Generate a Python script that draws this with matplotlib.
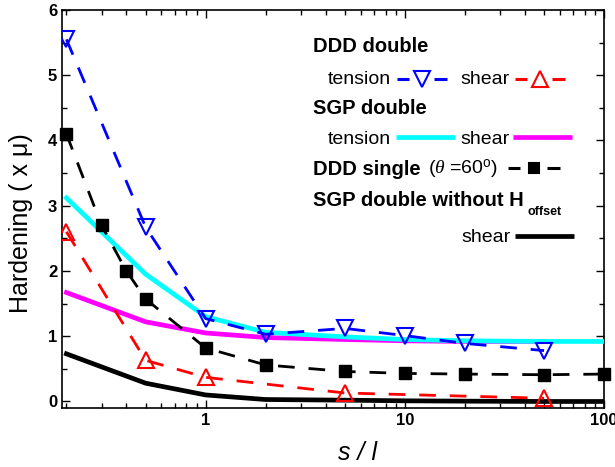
import matplotlib
matplotlib.use("Agg")
import matplotlib.pyplot as plt
from matplotlib.lines import Line2D
from matplotlib.ticker import LogLocator, NullFormatter, MultipleLocator, FixedLocator, FixedFormatter

plt.rcParams['font.family'] = ['Liberation Sans', 'DejaVu Sans']
plt.rcParams['mathtext.fontset'] = 'custom'
plt.rcParams['mathtext.rm'] = 'Liberation Sans'
plt.rcParams['mathtext.it'] = 'Liberation Serif:italic'

# Data
ddd_x_tension = [0.2, 0.5, 1, 2, 5, 10, 20, 50]
ddd_tension = [5.55, 2.67, 1.27, 1.03, 1.12, 1.01, 0.89, 0.78]
ddd_x_shear = [0.2, 0.5, 1, 5, 50]
ddd_shear = [2.6, 0.63, 0.37, 0.13, 0.05]
single_x = [0.2, 0.3, 0.4, 0.5, 1, 2, 5, 10, 20, 50, 100]
single_y = [4.1, 2.7, 2.0, 1.57, 0.82, 0.56, 0.46, 0.43, 0.42, 0.41, 0.42]
sgp_x = [0.2, 0.5, 1, 2, 5, 10, 20, 50, 100]
sgp_tension = [3.12, 1.95, 1.3, 1.06, 0.99, 0.95, 0.93, 0.92, 0.92]
sgp_shear_x = [0.2, 0.5, 1, 2, 5, 10, 20, 50]
sgp_shear = [1.67, 1.22, 1.05, 0.98, 0.95, 0.93, 0.92, 0.92]
noff_x = [0.2, 0.5, 1, 2, 5, 10, 20, 50, 100]
noff_shear = [0.73, 0.28, 0.1, 0.03, 0.02, 0.01, 0.005, 0.0, 0.0]

W, H = 615, 467
fig = plt.figure(figsize=(W/100, H/100), dpi=100)
ax = fig.add_axes([62/W, 1-408/H, (604-62)/W, (408-10)/H])

DASH = (0, (6, 5))
ax.plot(sgp_shear_x, sgp_shear, color='#ff00ff', lw=3.4, zorder=2)
ax.plot(sgp_x, sgp_tension, color='#00ffff', lw=3.4, zorder=3)
ax.plot(noff_x, noff_shear, color='black', lw=3.4, zorder=2)
ax.plot(ddd_x_tension, ddd_tension, color='blue', lw=2, ls=DASH,
        marker='v', ms=12, mfc='none', mew=1.5, zorder=4)
ax.plot(ddd_x_shear, ddd_shear, color='red', lw=2, ls=DASH,
        marker='^', ms=12, mfc='none', mew=1.5, zorder=4)
ax.plot(single_x, single_y, color='black', lw=2, ls=DASH,
        marker='s', ms=8, zorder=4, clip_on=False)

ax.set_xscale('log')
ax.set_xlim(0.19, 100)
ax.set_ylim(-0.1, 6)
ax.xaxis.set_major_locator(FixedLocator([1, 10, 100]))
ax.xaxis.set_major_formatter(FixedFormatter(['1', '10', '100']))
ax.xaxis.set_minor_locator(LogLocator(base=10, subs=range(2, 10)))
ax.xaxis.set_minor_formatter(NullFormatter())
ax.yaxis.set_major_locator(MultipleLocator(1))
ax.yaxis.set_minor_locator(MultipleLocator(0.5))
ax.tick_params(which='both', direction='in', top=True, right=True, width=1)
ax.tick_params(which='major', length=6, labelsize=12)
ax.tick_params(which='minor', length=3.5)
for lab in ax.get_xticklabels() + ax.get_yticklabels():
    lab.set_fontweight('bold')
for s in ax.spines.values():
    s.set_linewidth(1.2)

ax.set_ylabel('Hardening ( x μ)', fontsize=18)
ax.yaxis.set_label_coords(-0.054, 0.465)
ax.set_xlabel('s / l', fontsize=18, style='italic')
ax.xaxis.set_label_coords(0.546, -0.083)

def fx(x):
    return x / W
def fy(y):
    return 1 - y / H

def txt(x, y, s, bold=False, size=14):
    fig.text(fx(x), fy(y), s, fontsize=size, fontweight='bold' if bold else 'normal',
             va='center', ha='left')

def seg(x0, x1, y, color, lw):
    fig.add_artist(Line2D([fx(x0), fx(x1)], [fy(y), fy(y)], color=color, lw=lw,
                          solid_capstyle='butt'))

def dashed_sample(x0, x1, y, color, marker, ms, mfc):
    seg(x0, x0 + 12, y, color, 2.2)
    seg(x1 - 13, x1, y, color, 2.2)
    fig.add_artist(Line2D([fx((x0 + x1) / 2)], [fy(y)], color=color, marker=marker,
                          ms=ms, mfc=mfc, mew=1.5, ls='none'))

B = 14.5
txt(313, 47, 'DDD double', bold=True, size=B)
txt(328, 79, 'tension')
dashed_sample(397, 447, 79, 'blue', 'v', 12, 'none')
txt(460, 79, 'shear')
dashed_sample(515, 565, 79, 'red', '^', 12, 'none')
txt(313, 109, 'SGP double', bold=True, size=B)
txt(328, 139, 'tension')
seg(396, 455, 137, '#00ffff', 3.4)
txt(460, 139, 'shear')
seg(513, 572, 137, '#ff00ff', 3.4)
txt(313, 169, 'DDD single', bold=True, size=B)
txt(428, 169, '($\\theta$ =60$^{\\rm o}$)')
dashed_sample(508, 560, 168, 'black', 's', 7, 'black')
txt(313, 200, 'SGP double without H', bold=True, size=B)
txt(528, 212, 'offset', bold=True, size=9)
txt(461, 238, 'shear')
seg(515, 574, 236, 'black', 3.4)

fig.savefig('out.png', dpi=100)
